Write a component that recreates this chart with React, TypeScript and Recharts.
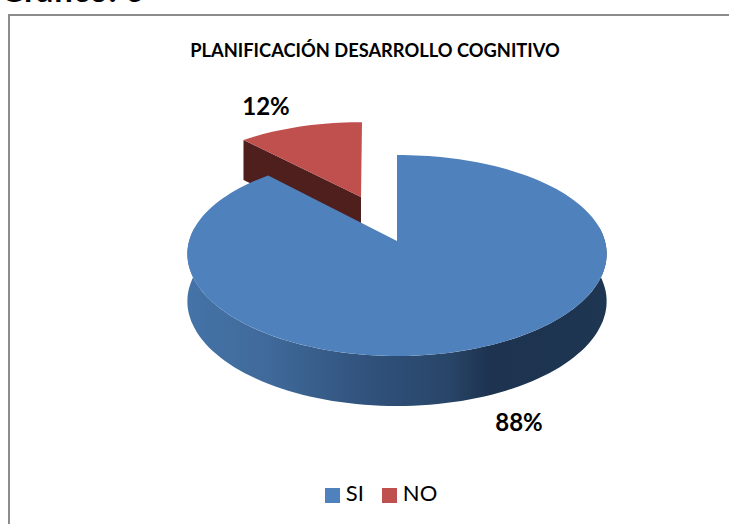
import React from 'react';
import { PieChart, Pie, Cell, Legend } from 'recharts';

const categories = ['NO', 'SI'];
const values = [12, 88];
const legendOrder = ['SI', 'NO'];
const titleText = 'PLANIFICACIÓN DESARROLLO COGNITIVO';
const headingText = 'Gráfico: 6';
const topColors: Record<string, string> = { SI: '#4f81bd', NO: '#c0504d' };
const chartData = categories.map((name, i) => ({ name, value: values[i] }));

const FONT = 'Lato, Carlito, sans-serif';
const RAD = Math.PI / 180;

// Projects a point of the unit pie (recharts angle, radius share) onto the tilted disc.
function project(cx: number, cy: number, r: number, deg: number, share = 1) {
  const theta = (90 - deg) * RAD; // clockwise from top
  const s = Math.sin(theta) * share;
  const v = Math.cos(theta) * share;
  return {
    x: cx + 0.99 * r * s * (1 - 0.13 * v),
    y: cy - (r * 0.4786) * v + (r * 0.069) * v * v,
  };
}

function arcPoints(cx: number, cy: number, r: number, a0: number, a1: number, dy: (v: number) => number = () => 0) {
  const n = Math.max(2, Math.ceil(Math.abs(a1 - a0) / 2));
  const pts: { x: number; y: number }[] = [];
  for (let i = 0; i <= n; i++) {
    const a = a0 + ((a1 - a0) * i) / n;
    const p = project(cx, cy, r, a);
    const th = (90 - a) * RAD;
    pts.push({ x: p.x, y: p.y + dy(Math.cos(th)) });
  }
  return pts;
}
const toPath = (pts: { x: number; y: number }[]) =>
  pts.map((p, i) => `${i ? 'L' : 'M'}${p.x.toFixed(1)},${p.y.toFixed(1)}`).join(' ');

function Slice3D(props: any) {
  const { cx, cy, outerRadius: r, startAngle, endAngle, name } = props;
  const isNo = name === 'NO';
  const apex = project(cx, cy, r, 0, 0);
  const depth = (v: number) => 47 - 3 * v;
  if (isNo) {
    // the exploded slice sits further back, so it is drawn a little smaller
    const ax = apex.x - 36;
    const ay = apex.y - 44;
    const rim = arcPoints(cx, cy, r, startAngle, endAngle).map((p) => ({
      x: ax + 1 + (p.x - apex.x) * 0.92,
      y: ay + (p.y - apex.y) * 0.87,
    }));
    const top = `${toPath(rim)} L${ax},${ay} Z`;
    const left = rim[0].x < rim[rim.length - 1].x ? rim[0] : rim[rim.length - 1];
    const d0 = 40;
    return (
      <g>
        <path d={`M${left.x},${left.y} L${ax},${ay} L${ax},${ay + d0} L${left.x},${left.y + d0} Z`} fill="#4f1f1d" />
        <path d={top} fill={topColors.NO} />
      </g>
    );
  }
  const rim = arcPoints(cx, cy, r, startAngle, endAngle);
  const top = `${toPath(rim)} L${apex.x},${apex.y} Z`;
  // side wall: only the front half of the rim is visible
  const frontWide = arcPoints(cx, cy, r, 8, -188);
  const lower = arcPoints(cx, cy, r, 8, -188, depth).reverse();
  const wall = `${toPath(frontWide)} ${toPath(lower).replace('M', 'L')} Z`;
  return (
    <g>
      <path d={wall} fill="url(#wallGrad)" />
      <path d={top} fill={topColors.SI} />
    </g>
  );
}

function renderLabel(props: any) {
  const { cx, cy, name, value } = props;
  const isNo = name === 'NO';
  const x = isNo ? cx - 131 : cx + 122;
  const y = isNo ? cy - 126 : cy + 190;
  return (
    <text x={x} y={y} textAnchor="middle" fontFamily={FONT} fontSize={24} fontWeight={700} fill="#000">
      {`${value}%`}
    </text>
  );
}

export default function App() {
  return (
    <div style={{ position: 'absolute', left: 0, top: 0, width: 729, height: 524, overflow: 'hidden', background: '#fff' }}>
      <div style={{ position: 'absolute', left: 0, top: -29, fontFamily: FONT, fontSize: 33.5, fontWeight: 700, color: '#000', whiteSpace: 'nowrap', lineHeight: '36px' }}>
        {headingText}
      </div>
      <div style={{ position: 'absolute', left: 8, top: 14, width: 730, height: 520, borderLeft: '2px solid #8c8c8c', borderTop: '2px solid #8c8c8c', boxSizing: 'border-box' }} />
      <div style={{ position: 'absolute', left: 0, top: 0 }}>
        <PieChart width={729} height={524} margin={{ top: 0, right: 0, bottom: 0, left: 0 }}>
          <defs>
            <linearGradient id="wallGrad" x1="0" y1="0" x2="1" y2="0">
              <stop offset="0" stopColor="#4573a8" />
              <stop offset="0.2" stopColor="#3f6999" />
              <stop offset="0.45" stopColor="#2f5079" />
              <stop offset="0.62" stopColor="#294669" />
              <stop offset="0.72" stopColor="#1d3350" />
              <stop offset="1" stopColor="#1e3652" />
            </linearGradient>
          </defs>
          <text x={375} y={57} textAnchor="middle" fontFamily={FONT} fontSize={18.3} fontWeight={700} fill="#000">
            {titleText}
          </text>
          <Pie
            data={chartData}
            dataKey="value"
            nameKey="name"
            cx={397}
            cy={241}
            outerRadius={210}
            startAngle={133.2}
            endAngle={-226.8}
            stroke="none"
            isAnimationActive={false}
            shape={Slice3D}
            label={renderLabel}
            labelLine={false}
          >
            {chartData.map((d) => (
              <Cell key={d.name} fill={topColors[d.name]} />
            ))}
          </Pie>
          <Legend
            layout="horizontal"
            verticalAlign="bottom"
            iconType="square"
            iconSize={15}
            itemSorter={(item: any) => legendOrder.indexOf(item.value)}
            wrapperStyle={{ left: 0, width: 772, bottom: 18, fontFamily: FONT, fontSize: 22 }}
            formatter={(value: string) => (
              <span style={{ color: '#000', marginLeft: 2, marginRight: value === 'SI' ? 8 : 0 }}>{value}</span>
            )}
          />
        </PieChart>
      </div>
    </div>
  );
}
